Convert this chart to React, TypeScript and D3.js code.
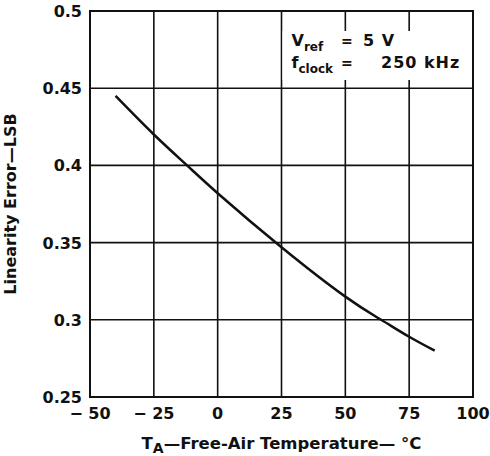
import React from 'react'
import { scaleLinear, line, curveNatural } from 'd3'

// temperature (°C) and linearity error (LSB)
const temps = [-40, -25, -12, 0, 25, 50, 64, 75, 85]
const errors = [0.445, 0.42, 0.4, 0.382, 0.347, 0.315, 0.3, 0.289, 0.28]

const xTicks = [-50, -25, 0, 25, 50, 75, 100]
const yTicks = [0.25, 0.3, 0.35, 0.4, 0.45, 0.5]
const yTickLabels = ['0.25', '0.3', '0.35', '0.4', '0.45', '0.5']

const width = 490
const height = 456
const left = 90
const right = 473
const top = 11
const bottom = 397
const font = '"DejaVu Sans", Arial, sans-serif'

const App = () => {
  const xscale = scaleLinear().domain([-50, 100]).range([left, right])
  const yscale = scaleLinear().domain([0.25, 0.5]).range([bottom, top])

  const pts: [number, number][] = temps.map((t, i) => [t, errors[i]])
  const path = line<[number, number]>()
    .x(d => xscale(d[0]))
    .y(d => yscale(d[1]))
    .curve(curveNatural)(pts)

  const fmtX = (v: number) => (v < 0 ? '\u2212 ' + Math.abs(v) : String(v))
  const boxX = xscale(25)

  return (
    <svg
      width={width}
      height={height}
      viewBox={`0 0 ${width} ${height}`}
      style={{ position: 'absolute', left: 0, top: 0, background: '#fff' }}
      fontFamily={font}
      fontWeight='bold'
    >
      <rect x={0} y={0} width={width} height={height} fill='#fff' />
      {xTicks.map(t => (
        <line key={'gx' + t} x1={xscale(t)} x2={xscale(t)} y1={top} y2={bottom} stroke='#111' strokeWidth={1.6} />
      ))}
      {yTicks.map(t => (
        <line key={'gy' + t} x1={left} x2={right} y1={yscale(t)} y2={yscale(t)} stroke='#111' strokeWidth={1.6} />
      ))}
      {/* annotation box covers the grid */}
      <rect x={boxX + 1} y={31} width={right - boxX - 2} height={49} fill='#fff' />
      <text y={46} fontSize={16} fill='#111'>
        <tspan x={boxX + 10}>V</tspan>
        <tspan fontSize={12} dy={5}>ref</tspan>
        <tspan x={341} dy={-5} fontSize={14}>=</tspan>
        <tspan x={363} letterSpacing={1}>5 V</tspan>
      </text>
      <text y={68} fontSize={16} fill='#111'>
        <tspan x={boxX + 10}>f</tspan>
        <tspan fontSize={12} dy={5}>clock</tspan>
        <tspan x={341} dy={-5} fontSize={14}>=</tspan>
        <tspan x={381} letterSpacing={1}>250 kHz</tspan>
      </text>
      <rect x={left} y={top} width={right - left} height={bottom - top} fill='none' stroke='#111' strokeWidth={2} />
      <path d={path ?? ''} fill='none' stroke='#111' strokeWidth={2.5} />
      {yTicks.map((t, i) => (
        <text key={'ly' + t} x={left - 8} y={yscale(t) + 6} textAnchor='end' fontSize={16} fill='#111'>
          {yTickLabels[i]}
        </text>
      ))}
      {xTicks.map(t => (
        <text key={'lx' + t} x={xscale(t)} y={419} textAnchor='middle' fontSize={16} fill='#111'>
          {fmtX(t)}
        </text>
      ))}
      <text x={(left + right) / 2} y={449} textAnchor='middle' fontSize={16.5} fill='#111'>
        T<tspan fontSize={14} dy={4}>A</tspan><tspan dy={-4}>{'\u2014Free-Air Temperature\u2014 \u00b0C'}</tspan>
      </text>
      <text
        transform={`translate(16, ${(top + bottom) / 2}) rotate(-90)`}
        textAnchor='middle'
        fontSize={16}
        fill='#111'
      >
        {'Linearity Error\u2014LSB'}
      </text>
    </svg>
  )
}

export default App
